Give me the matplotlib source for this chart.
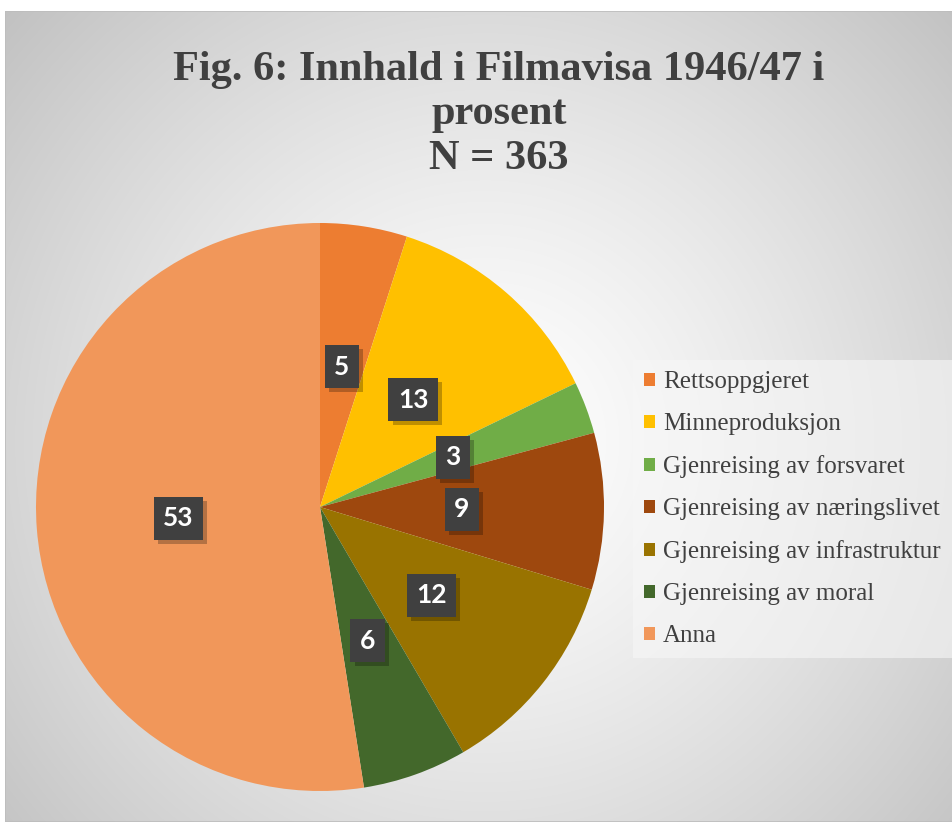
import numpy as np
import matplotlib.pyplot as plt
from matplotlib import patheffects

categories = ['Rettsoppgjeret', 'Minneproduksjon', 'Gjenreising av forsvaret',
              'Gjenreising av næringslivet', 'Gjenreising av infrastruktur',
              'Gjenreising av moral', 'Anna']
values = [5, 13, 3, 9, 12, 6, 53]
colors = ['#ED7D31', '#FFC000', '#70AD47', '#9E480E', '#997300', '#43682B', '#F1975A']
title = 'Fig. 6: Innhald i Filmavisa 1946/47 i\nprosent\nN = 363'

W, H = 953, 822
fig = plt.figure(figsize=(W / 100, H / 100), dpi=100)
fig.patch.set_facecolor('white')

# radial gradient background of the chart area
x0, y0 = 5, 11
bg = fig.add_axes([x0 / W, 0, (W - x0) / W, (H - y0) / H])
bg.set_axis_off()
yy, xx = np.mgrid[0:H - y0, 0:W - x0]
cx, cy = 480, 430
d = np.sqrt((xx - cx) ** 2 + (yy - cy) ** 2) / 640
shade = 1 - 0.24 * np.clip(d, 0, 1) ** 1.3
bg.imshow(np.dstack([shade] * 3), aspect='auto', interpolation='bilinear')
bg.add_patch(plt.Rectangle((0, 0), 1, 1, transform=bg.transAxes, fill=False,
                           edgecolor='#bdbdbd', lw=1.2))

fig.text(499 / W, 1 - 51 / H, title, ha='center', va='top', fontsize=30.5,
         fontweight='bold', family='Liberation Serif', color='#404040',
         linespacing=1.22)

# pie, centre (320, 507), radius 284 px
R = 284
ax = fig.add_axes([(320 - R) / W, 1 - (507 + R) / H, 2 * R / W, 2 * R / H])
wedges, texts = ax.pie(values, colors=colors, startangle=90, counterclock=False,
                       labels=[str(v) for v in values], labeldistance=0.5,
                       textprops=dict(color='white', fontsize=19, fontweight='bold',
                                      family='Lato', ha='center', va='center'),
                       wedgeprops=dict(linewidth=0))
ax.set_aspect('equal')
ax.set_xlim(-1, 1)
ax.set_ylim(-1, 1)
for t in texts:
    t.set_bbox(dict(boxstyle='square,pad=0.36', facecolor='#404040', edgecolor='none'))
    t.get_bbox_patch().set_path_effects([
        patheffects.SimplePatchShadow(offset=(3, -3), alpha=0.25, shadow_rgbFace='black'),
        patheffects.Normal()])

leg = fig.legend(wedges, categories, loc='upper left',
                 bbox_to_anchor=(633 / W, 1 - 360 / H),
                 prop=dict(family='Liberation Serif', size=18),
                 frameon=True, fancybox=False, framealpha=0.6, edgecolor='none',
                 facecolor='#f7f7f7', handlelength=0.45, handleheight=0.45,
                 handletextpad=0.3, labelspacing=0.8, borderpad=0.45,
                 borderaxespad=0)
for txt in leg.get_texts():
    txt.set_color('#404040')

fig.savefig('out.png', dpi=100)
